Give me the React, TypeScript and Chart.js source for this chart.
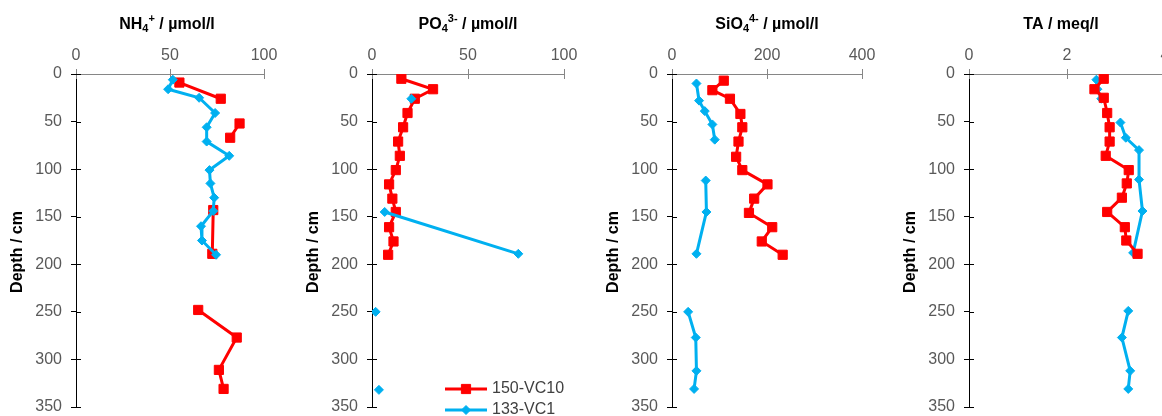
import React, { useEffect, useRef } from 'react';
import { Chart, registerables } from 'chart.js';
import { drawPoint } from 'chart.js/helpers';

Chart.register(...registerables);

const FONT = "'Liberation Sans', Arial, sans-serif";

// ---- data (depth in cm, value) ; null = gap in the profile ----
const SERIES_A = '150-VC10';
const SERIES_B = '133-VC1';

const nh4Depth150 = [9, 26, 40, 52, 67, 100, 143, 189, 220, 248, 277, 311, 331];
const nh4Val150 = [55, 77, null, 87, 82, null, 73, 72.5, null, 65, 85.5, 76, 78.5];
const nh4Depth133 = [6, 16, 25, 41, 56, 71, 86, 101, 115, 130, 144, 160, 175, 190];
const nh4Val133 = [51.5, 49, 65.5, 74, 69.5, 69.5, 81.5, 71, 71.5, 73.5, 73, 66.5, 67, 74.5];

const po4Depth150 = [5, 16, 26, 41, 56, 71, 86, 101, 116, 131, 145, 161, 176, 190];
const po4Val150 = [15.3, 31.8, 22.3, 18.5, 16.2, 13.6, 14.5, 12.4, 8.9, 10.6, 12.4, 8.9, 11.2, 8.4];
const po4Depth133 = [26, 100, 145, 189, 220, 250, 290, 332];
const po4Val133 = [20.5, null, 6.6, 76.2, null, 1.9, null, 3.6];

const sioDepth150 = [7, 17, 26, 42, 56, 71, 87, 101, 116, 131, 146, 161, 176, 190];
const sioVal150 = [109, 85, 122, 144, 148, 140, 135, 148, 201, 173, 162, 211, 189, 233];
const sioDepth133 = [10, 28, 39, 53, 69, 90, 112, 145, 189, 220, 250, 277, 312, 331];
const sioVal133 = [51.5, 57, 69, 85, 90, null, 71, 72.5, 51.5, null, 34, 50, 51.5, 46.5];

const taDepth150 = [5, 16, 25, 41, 56, 71, 86, 101, 115, 130, 145, 161, 175, 189];
const taVal150 = [2.75, 2.56, 2.75, 2.82, 2.87, 2.87, 2.79, 3.26, 3.22, 3.12, 2.82, 3.18, 3.21, 3.44];
const taDepth133 = [6, 16, 26, 40, 51, 67, 80, 111, 144, 188, 220, 249, 277, 312, 331];
const taVal133 = [2.6, 2.62, 2.7, null, 3.09, 3.2, 3.47, 3.47, 3.54, 3.35, null, 3.25, 3.12, 3.29, 3.25];

const depthTicks = { min: 0, max: 350, step: 50 };
const depthTitle = 'Depth / cm';

// ---- styling / layout ----
const RED = '#FF0000';
const BLUE = '#00B0F0';
const AXIS_GRAY = '#868686';
const TICK_COLOR = '#595959';
const YW = 80;
const RP = 30;
const H = 450;
const TOP = 74;
const BOTTOM = 407;
const XH = 30;

type Seg = { t: string; k?: 'sub' | 'sup' };

const toPoints = (d: number[], v: (number | null)[]) => d.map((y, i) => ({ x: v[i], y }));

const panels = [
  {
    title: [{ t: 'NH' }, { t: '4', k: 'sub' }, { t: '+', k: 'sup' }, { t: ' / µmol/l' }] as Seg[],
    max: 100, step: 50, left: 76, width: 188, titleDx: -3,
    a: toPoints(nh4Depth150, nh4Val150), b: toPoints(nh4Depth133, nh4Val133),
    blueTop: true, legend: false,
  },
  {
    title: [{ t: 'PO' }, { t: '4', k: 'sub' }, { t: '3-', k: 'sup' }, { t: ' / µmol/l' }] as Seg[],
    max: 100, step: 50, left: 372, width: 192, titleDx: 0,
    a: toPoints(po4Depth150, po4Val150), b: toPoints(po4Depth133, po4Val133),
    blueTop: true, legend: true,
  },
  {
    title: [{ t: 'SiO' }, { t: '4', k: 'sub' }, { t: '4-', k: 'sup' }, { t: ' / µmol/l' }] as Seg[],
    max: 400, step: 200, left: 672, width: 190, titleDx: 0,
    a: toPoints(sioDepth150, sioVal150), b: toPoints(sioDepth133, sioVal133),
    blueTop: false, legend: false,
  },
  {
    title: [{ t: 'TA / meq/l' }] as Seg[],
    max: 4, step: 2, left: 969, width: 196, titleDx: -6,
    a: toPoints(taDepth150, taVal150), b: toPoints(taDepth133, taVal133),
    blueTop: false, legend: false,
  },
];

type PanelDef = (typeof panels)[number];

function makePlugin(p: PanelDef) {
  return {
    id: 'panelText',
    beforeDatasetsDraw(chart: any) {
      const { ctx, chartArea } = chart;
      ctx.save();
      ctx.lineWidth = 1;
      const xs = chart.scales.x;
      ctx.strokeStyle = AXIS_GRAY;
      xs.ticks.forEach((t: any) => {
        const px = Math.round(xs.getPixelForValue(t.value)) + 0.5;
        ctx.beginPath();
        ctx.moveTo(px, chartArea.top);
        ctx.lineTo(px, chartArea.top + 5);
        ctx.stroke();
      });
      const ys = chart.scales.y;
      ctx.strokeStyle = '#000';
      ys.ticks.forEach((t: any) => {
        const py = Math.round(ys.getPixelForValue(t.value)) + 0.5;
        ctx.beginPath();
        ctx.moveTo(chartArea.left, py);
        ctx.lineTo(chartArea.left + 5, py);
        ctx.stroke();
      });
      ctx.restore();
    },
    afterDraw(chart: any) {
      const { ctx, chartArea } = chart;
      ctx.save();
      // panel title with sub/superscripts
      const big = `bold 16px ${FONT}`;
      const small = `bold 11px ${FONT}`;
      let total = 0;
      const widths = p.title.map((s) => {
        ctx.font = s.k ? small : big;
        const w = ctx.measureText(s.t).width;
        total += w;
        return w;
      });
      let x = (chartArea.left + chartArea.right) / 2 + p.titleDx - total / 2;
      const base = 29;
      ctx.fillStyle = '#000';
      ctx.textBaseline = 'alphabetic';
      ctx.textAlign = 'left';
      p.title.forEach((s, i) => {
        ctx.font = s.k ? small : big;
        const dy = s.k === 'sub' ? 3 : s.k === 'sup' ? -7 : 0;
        ctx.fillText(s.t, x, base + dy);
        x += widths[i];
      });
      // depth axis title
      ctx.save();
      ctx.translate(chartArea.left - 58, 252);
      ctx.rotate(-Math.PI / 2);
      ctx.font = big;
      ctx.textAlign = 'center';
      ctx.textBaseline = 'middle';
      ctx.fillText(depthTitle, 0, 0);
      ctx.restore();
      // legend
      if (p.legend) {
        chart.data.datasets.forEach((ds: any, i: number) => {
          const y = chartArea.bottom - 18 + i * 21;
          const x0 = chartArea.left + 73;
          ctx.strokeStyle = ds.borderColor;
          ctx.lineWidth = ds.borderWidth;
          ctx.beginPath();
          ctx.moveTo(x0, y);
          ctx.lineTo(x0 + 42, y);
          ctx.stroke();
          ctx.fillStyle = ds.backgroundColor;
          ctx.strokeStyle = ds.borderColor;
          ctx.lineWidth = ds.pointBorderWidth;
          drawPoint(ctx, { pointStyle: ds.pointStyle, radius: ds.pointRadius, borderWidth: ds.pointBorderWidth, rotation: 0 } as any, x0 + 21, y);
          ctx.fillStyle = '#404040';
          ctx.font = `16px ${FONT}`;
          ctx.textAlign = 'left';
          ctx.textBaseline = 'middle';
          ctx.fillText(ds.label, x0 + 47, y);
        });
      }
      ctx.restore();
    },
  };
}

function Panel({ p }: { p: PanelDef }) {
  const ref = useRef<HTMLCanvasElement>(null);
  useEffect(() => {
    if (!ref.current) return;
    const tickFont = { size: 16, family: FONT };
    const chart = new Chart(ref.current, {
      type: 'line',
      data: {
        datasets: [
          {
            label: SERIES_A, data: p.a as any, borderColor: RED, backgroundColor: RED,
            borderWidth: 3, pointStyle: 'rect', pointRadius: 6.5, pointBorderWidth: 1,
            pointBorderColor: RED, pointBackgroundColor: RED, spanGaps: false,
            order: p.blueTop ? 1 : 0,
          },
          {
            label: SERIES_B, data: p.b as any, borderColor: BLUE, backgroundColor: BLUE,
            borderWidth: 3, pointStyle: 'rectRot', pointRadius: 4.5, pointBorderWidth: 1,
            pointBorderColor: BLUE, pointBackgroundColor: BLUE, spanGaps: false,
            order: p.blueTop ? 0 : 1,
          },
        ],
      },
      options: {
        responsive: false,
        maintainAspectRatio: false,
        animation: false,
        layout: { padding: { left: 0, right: RP, top: TOP - XH, bottom: H - BOTTOM } },
        plugins: { legend: { display: false }, tooltip: { enabled: false }, title: { display: false } },
        scales: {
          x: {
            type: 'linear', position: 'top', min: 0, max: p.max,
            afterFit: (s: any) => { s.height = XH; },
            ticks: { stepSize: p.step, font: tickFont, color: TICK_COLOR, padding: 4, maxRotation: 0 },
            grid: { drawOnChartArea: false, drawTicks: true, tickLength: 5, color: AXIS_GRAY, lineWidth: 1 },
            border: { display: true, color: AXIS_GRAY, width: 1 },
          },
          y: {
            type: 'linear', reverse: true, min: depthTicks.min, max: depthTicks.max,
            afterFit: (s: any) => { s.width = YW; },
            ticks: { stepSize: depthTicks.step, font: tickFont, color: TICK_COLOR, padding: 9 },
            grid: { drawOnChartArea: false, drawTicks: true, tickLength: 5, color: '#000', lineWidth: 1 },
            border: { display: true, color: '#000', width: 1 },
          },
        },
      } as any,
      plugins: [makePlugin(p)],
    });
    return () => chart.destroy();
  }, [p]);
  const w = YW + p.width + RP;
  return (
    <canvas
      ref={ref}
      width={w}
      height={H}
      style={{ position: 'absolute', left: p.left - YW, top: 0, width: w, height: H }}
    />
  );
}

export default function App() {
  return (
    <div
      style={{
        position: 'fixed', left: 0, top: 0, width: 1162, height: 416,
        overflow: 'hidden', background: '#fff',
      }}
    >
      {panels.map((p, i) => (
        <Panel key={i} p={p} />
      ))}
    </div>
  );
}
